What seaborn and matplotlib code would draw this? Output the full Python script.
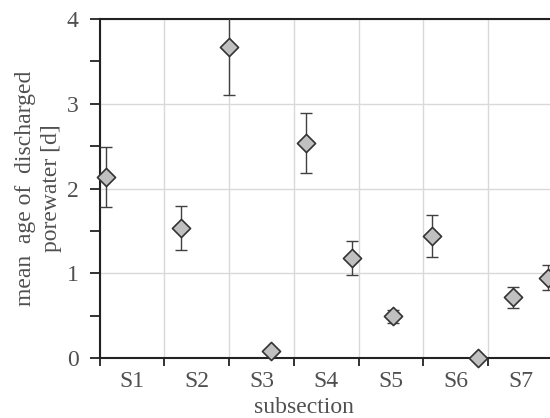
import numpy as np
import pandas as pd
import matplotlib
matplotlib.use("Agg")
import matplotlib.pyplot as plt
import seaborn as sns
from matplotlib.ticker import MultipleLocator, FixedLocator, NullFormatter, FixedFormatter

# data
subsections = ["S1", "S2", "S3", "S4", "S5", "S6", "S7"]
position = [0.10, 1.26, 2.00, 2.65, 3.19, 3.90, 4.54, 5.14, 5.84, 6.39, 6.92]
mean_age = [2.14, 1.53, 3.67, 0.08, 2.54, 1.18, 0.49, 1.44, 0.00, 0.72, 0.94]
err_low = [1.78, 1.27, 3.10, 0.08, 2.18, 0.98, 0.41, 1.19, 0.00, 0.59, 0.80]
err_high = [2.49, 1.79, 4.25, 0.08, 2.89, 1.38, 0.57, 1.69, 0.00, 0.84, 1.10]

df = pd.DataFrame({"position": position, "age": mean_age})

sns.set_style("white")
plt.rcParams["font.family"] = ["Liberation Serif", "DejaVu Serif"]
text_col = "#505050"
fs = 17

fig = plt.figure(figsize=(5.5, 4.18), dpi=100)
ax = fig.add_axes([0.181, 0.1435, 0.824, 0.811])

yerr = [np.array(mean_age) - np.array(err_low), np.array(err_high) - np.array(mean_age)]
ax.errorbar(position, mean_age, yerr=yerr, fmt="none", ecolor="#404040",
            elinewidth=1.0, capsize=4, capthick=1.0, zorder=3)
sns.scatterplot(data=df, x="position", y="age", marker="D", s=85,
                color="#c0c0c0", edgecolor="#333333", linewidth=1.2,
                ax=ax, zorder=4, clip_on=False)

ax.set_xlim(0, 7)
ax.set_ylim(0, 4)

ax.xaxis.set_major_locator(FixedLocator(range(0, 8)))
ax.xaxis.set_major_formatter(NullFormatter())
ax.xaxis.set_minor_locator(FixedLocator([i + 0.5 for i in range(7)]))
ax.xaxis.set_minor_formatter(FixedFormatter(subsections))
ax.tick_params(axis="x", which="major", direction="out", length=6, width=1.3,
               color="#222222", bottom=True)
ax.tick_params(axis="x", which="minor", length=0, labelsize=fs,
               labelcolor=text_col, pad=9)

ax.yaxis.set_major_locator(MultipleLocator(1))
ax.yaxis.set_minor_locator(MultipleLocator(0.5))
ax.tick_params(axis="y", which="both", direction="out", length=7, width=1.3,
               color="#222222", left=True, labelsize=fs, labelcolor=text_col, pad=8)

ax.grid(True, which="major", color="#d9d9d9", linewidth=1.0)
ax.set_axisbelow(True)

for side in ["left", "bottom", "top"]:
    ax.spines[side].set_visible(True)
    ax.spines[side].set_color("#222222")
    ax.spines[side].set_linewidth(1.5)
ax.spines["right"].set_visible(False)

ax.set_xlabel("subsection", fontsize=fs, color=text_col)
ax.xaxis.set_label_coords(0.451, -0.115)
ax.set_ylabel("mean  age of  discharged\nporewater [d]", fontsize=fs,
              color=text_col, linespacing=1.3)
ax.yaxis.set_label_coords(-0.083, 0.5)

fig.savefig("out.png", dpi=100)
